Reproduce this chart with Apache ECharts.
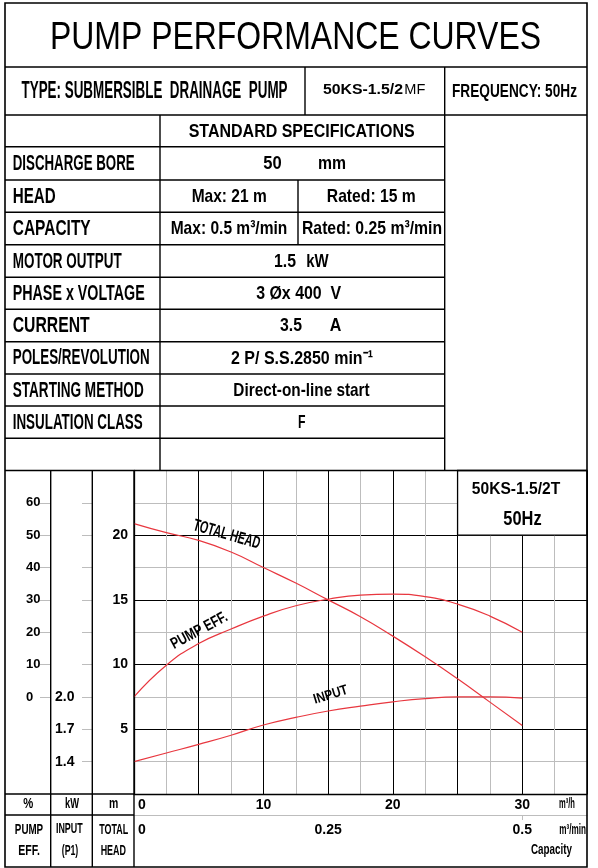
<!DOCTYPE html>
<html><head><meta charset="utf-8">
<script src="https://cdn.jsdelivr.net/npm/echarts@6/dist/echarts.min.js"></script>
<style>html,body{margin:0;padding:0;background:#fff}#c{width:598px;height:868px}</style>
</head><body><div id="c"></div>
<script>
// ---------- data ----------
const capacityM3h = [0, 2.5, 5, 7.5, 10, 12.5, 15, 17.5, 20, 22.5, 25, 27.5, 30];
const totalHeadM  = [20.9, 20.2, 19.6, 18.7, 17.5, 16.3, 15.0, 13.7, 12.2, 10.6, 8.9, 7.1, 5.3];
const pumpEffPct  = [0, 9.8, 16.5, 21, 25, 28.2, 30.2, 31.5, 31.8, 31, 28.7, 25, 20];
const inputKW     = [1.40, 1.48, 1.56, 1.645, 1.74, 1.81, 1.87, 1.915, 1.955, 1.985, 2.0, 2.0, 1.99];
const headTicks   = [5, 10, 15, 20];
const effTicks    = [0, 10, 20, 30, 40, 50, 60];
const kwTicks     = [1.4, 1.7, 2.0];
const kwTickMarks = [1.4, 1.7, 2.0, 2.3, 2.6, 2.9, 3.2, 3.5, 3.8];
const capTicksM3h   = [0, 10, 20, 30];
const capTicksM3min = [0, 0.25, 0.5];
const specLabels = ['DISCHARGE BORE','HEAD','CAPACITY','MOTOR OUTPUT','PHASE x VOLTAGE','CURRENT','POLES/REVOLUTION','STARTING METHOD','INSULATION CLASS'];

// ---------- helpers ----------
const FAM  = '"Liberation Sans", Arial, sans-serif';
const FAMN = '"Liberation Sans Narrow", "Liberation Sans", Arial, sans-serif';
const RED = '#e8373f';
const mctx = document.createElement('canvas').getContext('2d');
function T(text, x, y, size, opt) {
  opt = opt || {};
  const weight = opt.weight || 'bold';
  const fam = opt.fam || FAMN;
  const font = weight + ' ' + size + 'px ' + fam;
  mctx.font = font;
  const nat = mctx.measureText(text).width;
  const sx = opt.w ? opt.w / nat : 1;
  const al = opt.align || 'center';
  return {type:'text', x:x, y:y, rotation: opt.rot || 0, scaleX: sx, z: 100,
    style:{text:text, font:font, fill:'#000', align:al, verticalAlign:'middle', textAlign:al, textVerticalAlign:'middle'}};
}
function L(x1,y1,x2,y2,w,c){return {type:'line', z:90, shape:{x1:x1,y1:y1,x2:x2,y2:y2}, style:{stroke:c||'#000', lineWidth:w||1.4}};}

const rowsY = [146.7,180,212.3,244.7,277.3,309.3,341.7,374,406,438.3,470.5];
const labelW = [122,43,78,109,132,77,137,131,130];
const cy = i => (rowsY[i]+rowsY[i+1])/2 + 0.5;

const G = [];
// outer frame and table lines
G.push({type:'rect', z:90, shape:{x:5,y:3,width:582,height:864}, style:{fill:'none', stroke:'#000', lineWidth:1.6}});
G.push(L(5,67,587,67), L(5,115,587,115));
for (let i=0;i<rowsY.length-1;i++) G.push(L(5,rowsY[i],444.7,rowsY[i]));
G.push(L(5,470.5,587,470.5));
G.push(L(305,67,305,115), L(444.7,67,444.7,470.5), L(160,115,160,470.5), L(298,180,298,244.7));
G.push(L(50.7,470.5,50.7,867), L(92.3,470.5,92.3,867), L(134,470.5,134,867));
G.push(L(5,794,134,794), L(5,815,134,815));

// title / header
G.push(T('PUMP PERFORMANCE CURVES', 295.5, 39, 38, {weight:'normal', fam:FAM, w:491}));
G.push(T('TYPE: SUBMERSIBLE  DRAINAGE  PUMP', 154.5, 91.5, 23, {w:266}));
G.push(T('50KS-1.5/2', 363, 90.5, 14, {fam:FAM, w:80}));
G.push(T('MF', 414.8, 90.5, 14, {weight:'normal', fam:FAM, w:21}));
G.push(T('FREQUENCY: 50Hz', 514.5, 91.5, 19, {w:125}));
G.push(T('STANDARD SPECIFICATIONS', 301.7, 131.5, 19, {w:226}));
specLabels.forEach((s,i)=>G.push(T(s, 12.7, cy(i), 22, {align:'left', w:labelW[i]})));
G.push(T('50', 272.5, cy(0), 19, {w:18.4}), T('mm', 332, cy(0), 19, {w:28}));
G.push(T('Max: 21 m', 229.2, cy(1), 19, {w:75}), T('Rated: 15 m', 371.3, cy(1), 19, {w:89}));
G.push(T('Max: 0.5 m³/min', 229, cy(2), 19, {w:116.7}), T('Rated: 0.25 m³/min', 372, cy(2), 19, {w:140}));
G.push(T('1.5', 285, cy(3), 19, {w:22}), T('kW', 317.5, cy(3), 19, {w:22.4}));
G.push(T('3 Øx 400  V', 298.7, cy(4), 19, {w:85}));
G.push(T('3.5', 291, cy(5), 19, {w:22}), T('A', 335.5, cy(5), 19, {w:11.6}));
G.push(T('2 P/ S.S.2850 min⁻¹', 302, cy(6), 19, {w:142}));
G.push(T('Direct-on-line start', 301.5, cy(7), 19, {w:136.3}));
G.push(T('F', 301.7, cy(8), 19, {w:7.5}));

// lower left headers
G.push(T('%', 28.3, 804, 14, {w:10}), T('kW', 72, 804, 14, {w:14}), T('m', 113.7, 804, 14, {w:9.3}));
G.push(T('PUMP', 29, 830, 15, {w:28.3}), T('EFF.', 29, 851, 15, {w:21.7}));
G.push(T('INPUT', 69.3, 829, 15, {w:26.7}), T('(P1)', 70, 851, 15, {w:16.6}));
G.push(T('TOTAL', 113.8, 830, 15, {w:29}), T('HEAD', 113.3, 851, 15, {w:25.3}));
G.push(T('m³/h', 567, 804, 14, {w:16}), T('m³/min', 572.7, 830, 14, {w:26.7}), T('Capacity', 551.5, 850, 14, {w:41}));
G.push(T('50KS-1.5/2T', 516, 490, 16, {fam:FAM, w:88.3}), T('50Hz', 522.5, 519.3, 21, {w:38.3}));
// curve names
G.push(T('TOTAL HEAD', 226.7, 534.7, 17, {w:69, rot:-0.28}));
G.push(T('PUMP EFF.', 199.3, 630.7, 16, {w:62, rot:0.49}));
G.push(T('INPUT', 330.7, 695, 14, {w:35, rot:0.3}));

const lbl = (extra) => Object.assign({color:'#000', fontWeight:'bold', fontFamily:FAMN, fontSize:14}, extra);
const near = (arr, v) => arr.some(t => Math.abs(t - v) < 1e-6);

const chart = echarts.init(document.getElementById('c'));
chart.setOption({
  animation:false,
  backgroundColor:'#fff',
  grid:{left:134, top:470.5, right:11, bottom:74, containLabel:false},
  xAxis:[
    {type:'value', min:0, max:35, interval:5, position:'bottom',
     axisLine:{show:true, onZero:false, lineStyle:{color:'#000', width:1.3}},
     axisTick:{show:false},
     splitLine:{show:true, lineStyle:{color:'#000', width:1}},
     minorTick:{show:false, splitNumber:2},
     minorSplitLine:{show:true, lineStyle:{color:'#bdbdbd', width:1}},
     axisLabel:lbl({margin:4, showMinLabel:true, showMaxLabel:true,
       formatter: v => near(capTicksM3h, v) ? (v === 0 ? '{z|0}' : String(v)) : '',
       rich:{z:{padding:[0,0,0,16], color:'#000', fontWeight:'bold', fontFamily:FAMN, fontSize:14}}})},
    {type:'value', min:0, max:35/60, interval:0.25, position:'bottom', offset:21,
     axisLine:{show:true, onZero:false, lineStyle:{color:'#bdbdbd', width:1}},
     axisTick:{show:true, length:5, lineStyle:{color:'#bdbdbd'}, customValues:[0.5]},
     splitLine:{show:false},
     axisLabel:lbl({margin:8, showMinLabel:true, showMaxLabel:true,
       formatter: v => near(capTicksM3min, v) ? (v === 0 ? '{z|0}' : String(v)) : '',
       rich:{z:{padding:[0,0,0,16], color:'#000', fontWeight:'bold', fontFamily:FAMN, fontSize:14}}})}
  ],
  yAxis:[
    {type:'value', min:0, max:25, interval:5, position:'left', offset:0,
     axisLine:{show:true, onZero:false, lineStyle:{color:'#000', width:1.3}},
     axisTick:{show:false},
     splitLine:{show:true, lineStyle:{color:'#000', width:1}},
     minorTick:{show:false, splitNumber:2},
     minorSplitLine:{show:true, lineStyle:{color:'#bdbdbd', width:1}},
     axisLabel:lbl({margin:6, formatter: v => near(headTicks, v) ? String(v) : ''})},
    {type:'value', min:-30, max:70, interval:10, position:'left', offset:84,
     axisLine:{show:false, onZero:false},
     axisTick:{show:true, length:10, lineStyle:{color:'#bdbdbd'}, customValues:effTicks},
     splitLine:{show:false},
     axisLabel:lbl({margin:24, align:'left', fontSize:13, customValues:effTicks,
       formatter: v => near(effTicks, v) ? String(v) : ''})},
    {type:'value', min:1.1, max:4.1, interval:0.3, position:'left', offset:42,
     axisLine:{show:false, onZero:false},
     axisTick:{show:true, length:10, lineStyle:{color:'#bdbdbd'}, customValues:kwTickMarks},
     splitLine:{show:false},
     axisLabel:lbl({margin:37, align:'left', customValues:kwTicks,
       formatter: v => near(kwTicks, v) ? v.toFixed(1) : ''})}
  ],
  series:[
    {name:'TOTAL HEAD', type:'line', xAxisIndex:0, yAxisIndex:0, smooth:true, symbol:'none',
     lineStyle:{color:RED, width:1.2},
     data: capacityM3h.map((x,i)=>[x, totalHeadM[i]]),
     markArea:{silent:true, itemStyle:{color:'#fff', borderColor:'#000', borderWidth:1.3},
       data:[[{coord:[25,20]},{coord:[35,25]}]]}},
    {name:'PUMP EFF.', type:'line', xAxisIndex:0, yAxisIndex:1, smooth:true, symbol:'none',
     lineStyle:{color:RED, width:1.2},
     data: capacityM3h.map((x,i)=>[x, pumpEffPct[i]])},
    {name:'INPUT', type:'line', xAxisIndex:0, yAxisIndex:2, smooth:true, symbol:'none',
     lineStyle:{color:RED, width:1.2},
     data: capacityM3h.map((x,i)=>[x, inputKW[i]])}
  ],
  graphic: G
});
</script></body></html>
